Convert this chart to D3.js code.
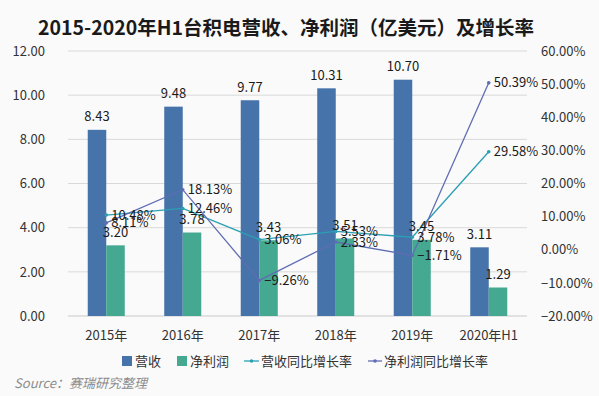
<!DOCTYPE html>
<html><head><meta charset="utf-8">
<script src="https://cdn.jsdelivr.net/npm/d3@7/dist/d3.min.js"></script>
<style>
html,body{margin:0;padding:0;background:#fafafa;}
svg{display:block;font-family:"Noto Sans CJK SC","Microsoft YaHei",sans-serif;}
</style></head>
<body>
<svg id="c" width="599" height="396"></svg>
<script>
const categories = ["2015年","2016年","2017年","2018年","2019年","2020年H1"];
const revenue = [8.43, 9.48, 9.77, 10.31, 10.70, 3.11];
const netProfit = [3.20, 3.78, 3.43, 3.51, 3.45, 1.29];
const revenueGrowth = [10.48, 12.46, 3.06, 5.53, 3.78, 29.58];
const profitGrowth = [8.11, 18.13, -9.26, 2.33, -1.71, 50.39];
const leftTicks = [0, 2, 4, 6, 8, 10, 12];
const rightTicks = [-20, -10, 0, 10, 20, 30, 40, 50, 60];
const titleText = "2015-2020年H1台积电营收、净利润（亿美元）及增长率";
const seriesNames = ["营收", "净利润", "营收同比增长率", "净利润同比增长率"];
const sourceText = "Source：赛瑞研究整理";

const colors = {rev:"#4673a9", np:"#45a891", rg:"#2b9fb3", pg:"#5f6db3"};
const svg = d3.select("#c");
const L = 68, R = 527, T = 51, B = 316;

svg.append("rect").attr("width",599).attr("height",396).attr("fill","#fafafa");

const x = d3.scaleBand().domain(categories).range([L, R]).paddingInner(0).paddingOuter(0);
const yL = d3.scaleLinear().domain([0, 12]).range([B, T]);
const yR = d3.scaleLinear().domain([-20, 60]).range([B, T]);
const bw = x.bandwidth() * 0.242;

// title
svg.append("text").attr("x", 286).attr("y", 35).attr("text-anchor","middle")
  .attr("font-size", 19.5).attr("font-weight","bold").attr("fill","#1a1a1a").text(titleText);

// gridlines
svg.append("g").selectAll("line").data(leftTicks).join("line")
  .attr("x1", L).attr("x2", R).attr("y1", d=>yL(d)).attr("y2", d=>yL(d))
  .attr("stroke","#d9d9d9").attr("stroke-width",1);

// left axis
const axL = d3.axisLeft(yL).tickValues(leftTicks).tickFormat(d3.format(".2f")).tickSize(0).tickPadding(0);
const gL = svg.append("g").attr("transform",`translate(45,0)`).call(axL);
gL.select(".domain").remove();
gL.selectAll("text").attr("font-size",13).attr("fill","#333").attr("font-family","'Noto Sans CJK SC',sans-serif");

// right axis
const axR = d3.axisRight(yR).tickValues(rightTicks).tickFormat(d=>d3.format(".2f")(d)+"%").tickSize(0).tickPadding(0);
const gR = svg.append("g").attr("transform",`translate(541,0)`).call(axR);
gR.select(".domain").remove();
gR.selectAll("text").attr("font-size",13).attr("fill","#333").attr("font-family","'Noto Sans CJK SC',sans-serif");

// x axis
const axX = d3.axisBottom(x).tickSize(0).tickPadding(0);
const gX = svg.append("g").attr("transform",`translate(0,${B+15})`).call(axX);
gX.select(".domain").remove();
gX.selectAll("text").attr("font-size",13).attr("fill","#333").attr("dy","0.71em").attr("font-family","'Noto Sans CJK SC',sans-serif");
svg.append("line").attr("x1",L).attr("x2",R).attr("y1",B).attr("y2",B).attr("stroke","#d9d9d9");

// bars
const cx = d => x(d) + x.bandwidth()/2;
svg.append("g").selectAll("rect").data(categories).join("rect")
  .attr("x", d=>cx(d)-bw).attr("width", bw)
  .attr("y", (d,i)=>yL(revenue[i])).attr("height",(d,i)=>B-yL(revenue[i]))
  .attr("fill", colors.rev);
svg.append("g").selectAll("rect").data(categories).join("rect")
  .attr("x", d=>cx(d)).attr("width", bw)
  .attr("y", (d,i)=>yL(netProfit[i])).attr("height",(d,i)=>B-yL(netProfit[i]))
  .attr("fill", colors.np);

// lines
function drawLine(vals, col){
  const line = d3.line().x((d,i)=>cx(categories[i])).y(d=>yR(d));
  svg.append("path").datum(vals).attr("d", line).attr("fill","none").attr("stroke",col).attr("stroke-width",1.3);
  svg.append("g").selectAll("circle").data(vals).join("circle")
    .attr("cx",(d,i)=>cx(categories[i])).attr("cy",d=>yR(d)).attr("r",1.8).attr("fill",col);
}
drawLine(revenueGrowth, colors.rg);
drawLine(profitGrowth, colors.pg);

// bar labels
const lab = svg.append("g").attr("font-size",13).attr("fill","#1a1a1a").attr("text-anchor","middle");
lab.selectAll(".rl").data(categories).join("text")
  .attr("x", d=>cx(d)-bw/2).attr("y",(d,i)=>yL(revenue[i])-13).attr("dy","0.35em")
  .text((d,i)=>d3.format(".2f")(revenue[i]));
lab.selectAll(".nl").data(categories).join("text")
  .attr("x", d=>cx(d)+bw/2).attr("y",(d,i)=>yL(netProfit[i])-13).attr("dy","0.35em")
  .text((d,i)=>d3.format(".2f")(netProfit[i]));

// line labels
function lineLabels(vals){
  svg.append("g").attr("font-size",13).attr("fill","#1a1a1a").selectAll("text").data(vals).join("text")
    .attr("x",(d,i)=>cx(categories[i])+5).attr("y",d=>yR(d)).attr("dy","0.35em")
    .text(d=>d3.format(".2f")(d)+"%");
}
lineLabels(revenueGrowth);
lineLabels(profitGrowth);

// legend
const lg = svg.append("g").attr("font-size",13).attr("fill","#333");
const ly = 361;
lg.append("rect").attr("x",122).attr("y",ly-5).attr("width",10).attr("height",10).attr("fill",colors.rev);
lg.append("text").attr("x",135).attr("y",ly).attr("dy","0.35em").text(seriesNames[0]);
lg.append("rect").attr("x",177).attr("y",ly-5).attr("width",10).attr("height",10).attr("fill",colors.np);
lg.append("text").attr("x",190).attr("y",ly).attr("dy","0.35em").text(seriesNames[1]);
lg.append("line").attr("x1",244).attr("x2",259).attr("y1",ly).attr("y2",ly).attr("stroke",colors.rg).attr("stroke-width",1.3);
lg.append("circle").attr("cx",251.5).attr("cy",ly).attr("r",1.8).attr("fill",colors.rg);
lg.append("text").attr("x",261).attr("y",ly).attr("dy","0.35em").text(seriesNames[2]);
lg.append("line").attr("x1",368).attr("x2",382).attr("y1",ly).attr("y2",ly).attr("stroke",colors.pg).attr("stroke-width",1.3);
lg.append("circle").attr("cx",375).attr("cy",ly).attr("r",1.8).attr("fill",colors.pg);
lg.append("text").attr("x",384).attr("y",ly).attr("dy","0.35em").text(seriesNames[3]);

// source
svg.append("text").attr("x",14).attr("y",383).attr("dy","0.35em").attr("font-size",13)
  .attr("font-style","italic").attr("fill","#8c8c8c").text(sourceText);
</script>
</body></html>
